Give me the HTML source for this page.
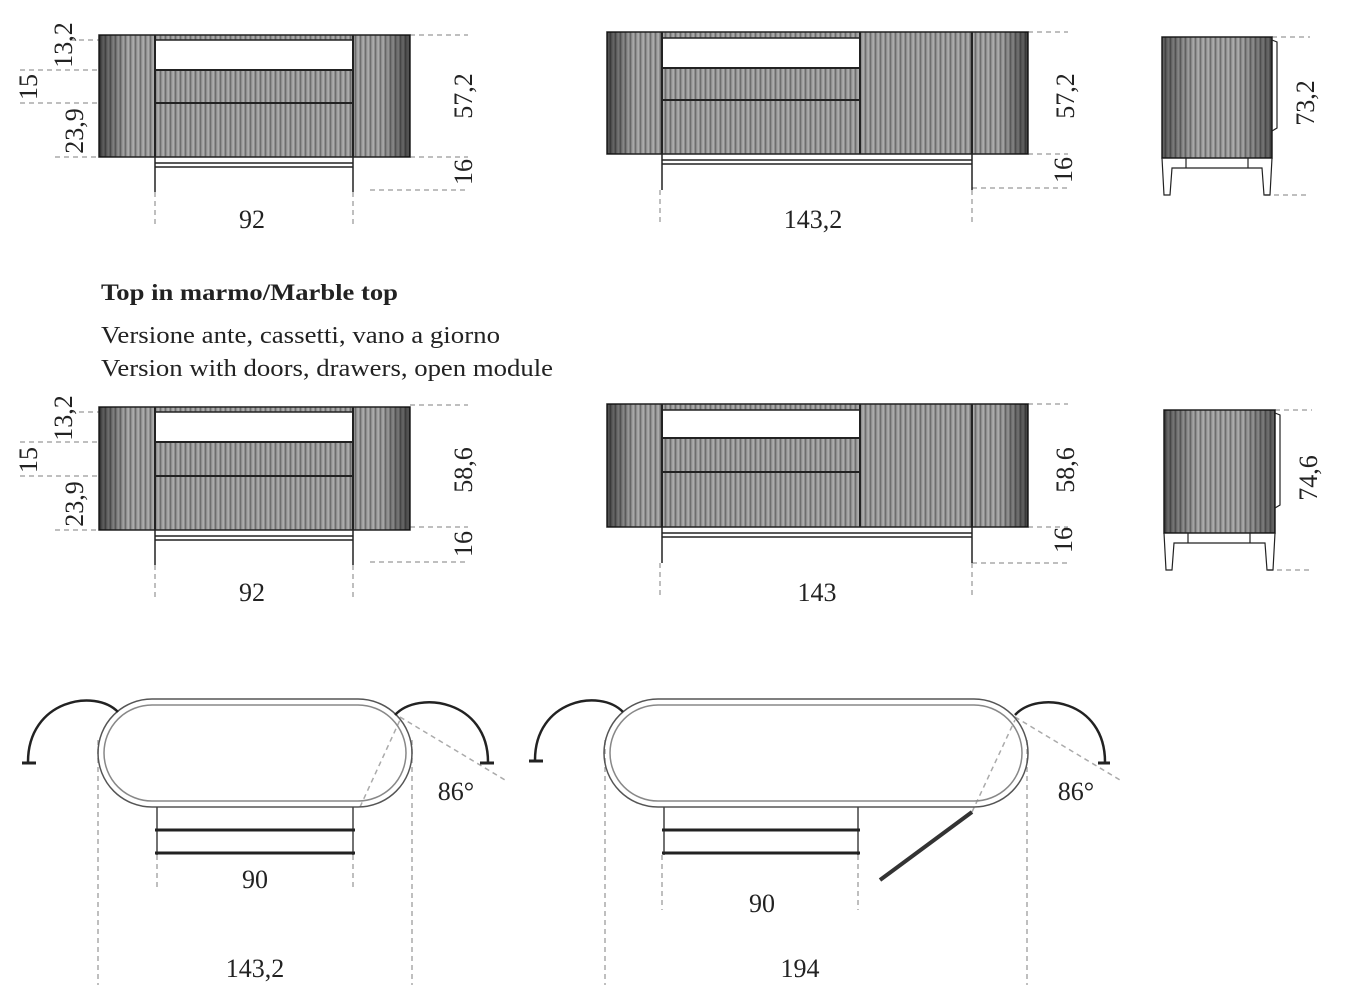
<!DOCTYPE html>
<html><head><meta charset="utf-8"><style>
body{margin:0;background:#fff}
svg{display:block}
text{font-family:"Liberation Serif",serif;fill:#222}
</style></head><body>
<svg width="1353" height="1000" viewBox="0 0 1353 1000" xmlns="http://www.w3.org/2000/svg">
<defs>
<pattern id="st" width="5" height="10" patternUnits="userSpaceOnUse">
<rect width="5" height="10" fill="#8f8f8f"/>
<rect x="0" width="1" height="10" fill="#6e6e6e"/>
<rect x="2.5" width="1.2" height="10" fill="#b8b8b8"/>
</pattern>
<linearGradient id="gl" x1="0" x2="1"><stop offset="0" stop-color="#000" stop-opacity=".55"/><stop offset=".5" stop-color="#000" stop-opacity="0"/></linearGradient>
<linearGradient id="gr" x1="0" x2="1"><stop offset=".5" stop-color="#000" stop-opacity="0"/><stop offset="1" stop-color="#000" stop-opacity=".55"/></linearGradient>
<linearGradient id="gs" x1="0" x2="1"><stop offset="0" stop-color="#000" stop-opacity=".45"/><stop offset=".3" stop-color="#000" stop-opacity="0"/><stop offset=".7" stop-color="#000" stop-opacity="0"/><stop offset="1" stop-color="#000" stop-opacity=".45"/></linearGradient>
</defs>
<g stroke="#aaa" stroke-width="1.5" stroke-dasharray="5,4" fill="none">
<path d="M70 40H155M20 70H155M20 103H99M55 157H99M410 35H468M410 157H468M370 190H468M155 192V228M353 192V228"/>
<path d="M1028 32H1068M1028 154H1068M972 188H1068M660 190V225M972 190V225"/>
<path d="M1272 37H1310M1265 195H1310"/>
<path d="M70 412H155M20 442H155M20 476H99M55 530H99M410 405H468M410 527H468M370 562H468M155 565V600M353 565V600"/>
<path d="M1028 404H1068M1028 527H1068M972 563H1068M660 563V597M972 563V597"/>
<path d="M1275 410H1312M1268 570H1312"/>
<path d="M98 740V985M412 740V985M157 855V890M353 855V890M400 717L505 780M360 807L400 720"/>
<path d="M605 740V985M1027 740V985M662 855V910M858 855V910M1015 717L1120 780M972 812L1015 720"/>
</g>

<g stroke="#222" stroke-width="1.5">
<rect x="99" y="35" width="311" height="122" fill="url(#st)"/>
<rect x="99" y="35" width="56" height="122" fill="url(#gl)" stroke="none"/>
<rect x="353" y="35" width="57" height="122" fill="url(#gr)" stroke="none"/>
<rect x="155" y="40" width="198" height="30" fill="#fff"/>
<path d="M155 35V157M353 35V157M155 70H353M155 103H353" fill="none" stroke-width="2"/>
<path d="M155 157V192M353 157V192M155 163H353M155 167H353" fill="none"/>
</g>
<g stroke="#222" stroke-width="1.5">
<rect x="607" y="32" width="421" height="122" fill="url(#st)"/>
<rect x="607" y="32" width="55" height="122" fill="url(#gl)" stroke="none"/>
<rect x="972" y="32" width="56" height="122" fill="url(#gr)" stroke="none"/>
<rect x="662" y="38" width="198" height="30" fill="#fff"/>
<path d="M662 32V154M860 32V154M972 32V154M662 68H860M662 100H860" fill="none" stroke-width="2"/>
<path d="M662 154V190M972 154V190M662 160H972M662 164H972" fill="none"/>
</g>
<g stroke="#222" stroke-width="1.5">
<rect x="1162" y="37" width="110" height="121" fill="url(#st)"/>
<rect x="1162" y="37" width="110" height="121" fill="url(#gs)" stroke="none"/>
<path d="M1162 158L1164 195H1170L1172 168H1262L1264 195H1270L1272 158M1186 158V168M1248 158V168M1272 40L1277 42V128L1272 131" fill="none" stroke-width="1.2"/>
</g>

<text x="101" y="300" font-size="23" font-weight="bold" textLength="297" lengthAdjust="spacingAndGlyphs">Top in marmo/Marble top</text>
<text x="101" y="343" font-size="24" textLength="399" lengthAdjust="spacingAndGlyphs">Versione ante, cassetti, vano a giorno</text>
<text x="101" y="376" font-size="24" textLength="452" lengthAdjust="spacingAndGlyphs">Version with doors, drawers, open module</text>

<g stroke="#222" stroke-width="1.5">
<rect x="99" y="407" width="311" height="123" fill="url(#st)"/>
<rect x="99" y="407" width="56" height="123" fill="url(#gl)" stroke="none"/>
<rect x="353" y="407" width="57" height="123" fill="url(#gr)" stroke="none"/>
<rect x="155" y="412" width="198" height="30" fill="#fff"/>
<path d="M155 407V530M353 407V530M155 442H353M155 476H353" fill="none" stroke-width="2"/>
<path d="M155 530V565M353 530V565M155 536H353M155 540H353" fill="none"/>
</g>
<g stroke="#222" stroke-width="1.5">
<rect x="607" y="404" width="421" height="123" fill="url(#st)"/>
<rect x="607" y="404" width="55" height="123" fill="url(#gl)" stroke="none"/>
<rect x="972" y="404" width="56" height="123" fill="url(#gr)" stroke="none"/>
<rect x="662" y="410" width="198" height="28" fill="#fff"/>
<path d="M662 404V527M860 404V527M972 404V527M662 438H860M662 472H860" fill="none" stroke-width="2"/>
<path d="M662 527V563M972 527V563M662 533H972M662 537H972" fill="none"/>
</g>
<g stroke="#222" stroke-width="1.5">
<rect x="1164" y="410" width="111" height="123" fill="url(#st)"/>
<rect x="1164" y="410" width="111" height="123" fill="url(#gs)" stroke="none"/>
<path d="M1164 533L1166 570H1172L1174 543H1265L1267 570H1273L1275 533M1188 533V543M1250 533V543M1275 413L1280 415V505L1275 508" fill="none" stroke-width="1.2"/>
</g>

<g fill="none" stroke="#555" stroke-width="1.5">
<rect x="98" y="699" width="314" height="108" rx="54"/>
<rect x="104" y="705" width="302" height="96" rx="48" stroke="#888"/>
<path d="M157 807V855M353 807V855" stroke="#444"/>
<path d="M155 830H355M155 853H355" stroke="#222" stroke-width="3"/>
<path d="M28 762C28 700 95 688 118 712" stroke="#222" stroke-width="2.5"/>
<path d="M488 762C488 700 418 690 395 715" stroke="#222" stroke-width="2.5"/>
<path d="M22 763H36M480 763H494" stroke="#222" stroke-width="3"/>
</g>
<g fill="none" stroke="#555" stroke-width="1.5">
<rect x="604" y="699" width="424" height="108" rx="54"/>
<rect x="610" y="705" width="412" height="96" rx="48" stroke="#888"/>
<path d="M664 807V855M858 807V855" stroke="#444"/>
<path d="M662 830H860M662 853H860" stroke="#222" stroke-width="3"/>
<path d="M535 760C535 700 600 688 623 712" stroke="#222" stroke-width="2.5"/>
<path d="M1105 762C1105 700 1038 690 1015 715" stroke="#222" stroke-width="2.5"/>
<path d="M529 761H543M1098 763H1110" stroke="#222" stroke-width="3"/>
<path d="M972 812L880 880" stroke="#333" stroke-width="4"/>
</g>

<g font-size="26">
<text transform="translate(72,45) rotate(-90)" text-anchor="middle">13,2</text>
<text transform="translate(37,87) rotate(-90)" text-anchor="middle">15</text>
<text transform="translate(83,131) rotate(-90)" text-anchor="middle">23,9</text>
<text transform="translate(472,96) rotate(-90)" text-anchor="middle">57,2</text>
<text transform="translate(472,172) rotate(-90)" text-anchor="middle">16</text>
<text x="252" y="228" text-anchor="middle">92</text>
<text transform="translate(1074,96) rotate(-90)" text-anchor="middle">57,2</text>
<text transform="translate(1072,170) rotate(-90)" text-anchor="middle">16</text>
<text x="813" y="228" text-anchor="middle">143,2</text>
<text transform="translate(1314,103) rotate(-90)" text-anchor="middle">73,2</text>

<text transform="translate(72,418) rotate(-90)" text-anchor="middle">13,2</text>
<text transform="translate(37,460) rotate(-90)" text-anchor="middle">15</text>
<text transform="translate(83,504) rotate(-90)" text-anchor="middle">23,9</text>
<text transform="translate(472,470) rotate(-90)" text-anchor="middle">58,6</text>
<text transform="translate(472,544) rotate(-90)" text-anchor="middle">16</text>
<text x="252" y="601" text-anchor="middle">92</text>
<text transform="translate(1074,470) rotate(-90)" text-anchor="middle">58,6</text>
<text transform="translate(1072,540) rotate(-90)" text-anchor="middle">16</text>
<text x="817" y="601" text-anchor="middle">143</text>
<text transform="translate(1317,478) rotate(-90)" text-anchor="middle">74,6</text>

<text x="456" y="800" text-anchor="middle">86°</text>
<text x="255" y="888" text-anchor="middle">90</text>
<text x="255" y="977" text-anchor="middle">143,2</text>
<text x="1076" y="800" text-anchor="middle">86°</text>
<text x="762" y="912" text-anchor="middle">90</text>
<text x="800" y="977" text-anchor="middle">194</text>
</g>
</svg>
</body></html>
